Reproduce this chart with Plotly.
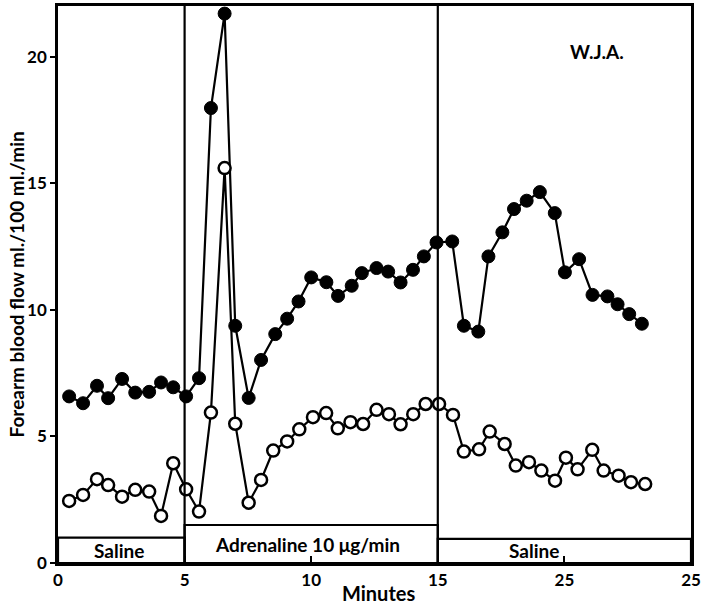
import plotly.graph_objects as go

# Filled circles (upper series)
filled_t = [0.44, 0.99, 1.54, 1.98, 2.53, 3.05, 3.6, 4.07, 4.55, 5.06, 5.57,
            6.04, 6.58, 7.0, 7.53, 8.02, 8.58, 9.05, 9.5, 10.0, 10.6, 11.06,
            11.6, 12.0, 12.58, 13.04, 13.53, 14.02, 14.45, 14.95, 15.57, 16.03,
            16.6, 17.0, 17.55, 18.01, 18.51, 19.03, 19.62, 20.02, 20.58, 21.11,
            21.7, 22.1, 22.56, 23.06]
filled_v = [6.58, 6.31, 7.0, 6.51, 7.27, 6.73, 6.76, 7.13, 6.94, 6.58, 7.3,
            17.97, 21.7, 9.37, 6.52, 8.02, 9.04, 9.65, 10.33, 11.28, 11.09, 10.55,
            10.95, 11.45, 11.65, 11.51, 11.08, 11.58, 12.11, 12.66, 12.7, 9.37,
            9.14, 12.11, 13.06, 13.98, 14.31, 14.65, 13.82, 11.48, 12.0, 10.59,
            10.53, 10.22, 9.83, 9.45]

# Open circles (lower series)
open_t = [0.44, 0.99, 1.54, 1.98, 2.53, 3.05, 3.6, 4.07, 4.55, 5.06, 5.57,
          6.04, 6.58, 7.0, 7.53, 8.02, 8.5, 9.05, 9.53, 10.07, 10.59, 11.05,
          11.55, 12.05, 12.58, 13.07, 13.53, 14.03, 14.52, 15.05, 15.6, 16.03,
          16.63, 17.05, 17.64, 18.08, 18.6, 19.09, 19.63, 20.06, 20.52, 21.1,
          21.55, 22.14, 22.63, 23.19]
open_v = [2.45, 2.69, 3.31, 3.08, 2.62, 2.89, 2.82, 1.86, 3.94, 2.91, 2.03,
          5.94, 15.6, 5.5, 2.38, 3.28, 4.44, 4.8, 5.28, 5.76, 5.92, 5.32,
          5.56, 5.49, 6.05, 5.88, 5.48, 5.88, 6.28, 6.28, 5.85, 4.4,
          4.49, 5.19, 4.70, 3.85, 3.98, 3.65, 3.25, 4.16, 3.70, 4.47,
          3.65, 3.45, 3.19, 3.12]

# Infusion phases: label, start, end, bar height, label position
phase_labels = ["Saline", "Adrenaline 10 \u03bcg/min", "Saline"]
phase_start = [0, 5, 15]
phase_end = [5, 15, 25]
phase_height = [1.0, 1.5, 0.95]
phase_label_x = [2.4, 9.85, 18.8]

x_tickvals = [0, 5, 10, 15, 20, 25]
x_ticktext = ["0", "5", "10", "15", "25", "25"]
y_tickvals = [0, 5, 10, 15, 20]

FONT = "Lato"
WEIGHT = "bold"
fig = go.Figure()

fig.add_trace(go.Scatter(
    x=filled_t, y=filled_v, mode="lines+markers",
    line=dict(color="black", width=2.2),
    marker=dict(symbol="circle", size=13, color="black",
                line=dict(color="black", width=1)),
    showlegend=False, cliponaxis=False))

fig.add_trace(go.Scatter(
    x=open_t, y=open_v, mode="lines+markers",
    line=dict(color="black", width=2.2),
    marker=dict(symbol="circle", size=12, color="white",
                line=dict(color="black", width=2.5)),
    showlegend=False, cliponaxis=False))

shapes = []
for lab, s, e, h in zip(phase_labels, phase_start, phase_end, phase_height):
    shapes.append(dict(type="rect", xref="x", yref="y", x0=s, x1=e, y0=0, y1=h,
                       line=dict(color="black", width=2.2), layer="above"))
for b in [5, 15]:
    shapes.append(dict(type="line", xref="x", yref="y", x0=b, x1=b, y0=0, y1=22,
                       line=dict(color="black", width=2.2), layer="above"))

tf = dict(family=FONT, size=17, color="black", weight=WEIGHT)
lf = dict(family=FONT, size=19, color="black", weight=WEIGHT)
annotations = []
for lab, lx, h in zip(phase_labels, phase_label_x, phase_height):
    annotations.append(dict(x=lx, y=h / 2, xref="x", yref="y", text=lab,
                            showarrow=False, font=lf))
annotations.append(dict(x=21.3, y=20.2, xref="x", yref="y", text="W.J.A.",
                        showarrow=False, font=lf))
annotations.append(dict(x=0, xshift=-42, xanchor="center", y=0.5,
                        xref="paper", yref="paper",
                        text="Forearm blood flow ml./100 ml./min", textangle=-90,
                        showarrow=False, font=lf))
annotations.append(dict(x=0.506, y=0, yshift=-30, yanchor="middle",
                        xref="paper", yref="paper",
                        text="Minutes", showarrow=False,
                        font=dict(family=FONT, size=20, color="black", weight=WEIGHT)))

fig.update_layout(
    width=702, height=605,
    margin=dict(l=58, r=11, t=6, b=42, autoexpand=False),
    paper_bgcolor="white", plot_bgcolor="white",
    shapes=shapes, annotations=annotations,
    font=dict(family=FONT, size=18, color="black"),
    xaxis=dict(range=[0, 25], tickvals=x_tickvals, ticktext=x_ticktext,
               ticks="inside", ticklen=7, tickwidth=2, tickcolor="black",
               showline=True, linecolor="black", linewidth=2.5, mirror=True,
               showgrid=False, zeroline=False, tickfont=tf,
               ticklabeloverflow="allow", automargin=False),
    yaxis=dict(range=[0, 22], tickvals=y_tickvals,
               ticks="outside", ticklen=5, tickwidth=2, tickcolor="black",
               showline=True, linecolor="black", linewidth=2.5, mirror=True,
               showgrid=False, zeroline=False, tickfont=tf,
               ticklabeloverflow="allow", automargin=False),
)

fig.write_html("out.html", config={"displayModeBar": False})

# remove the default page margin so the figure fills the window exactly
with open("out.html", "r", encoding="utf-8") as f:
    html = f.read()
html = html.replace("<head>", "<head><style>html,body{margin:0;padding:0;overflow:hidden}</style>", 1)
with open("out.html", "w", encoding="utf-8") as f:
    f.write(html)
